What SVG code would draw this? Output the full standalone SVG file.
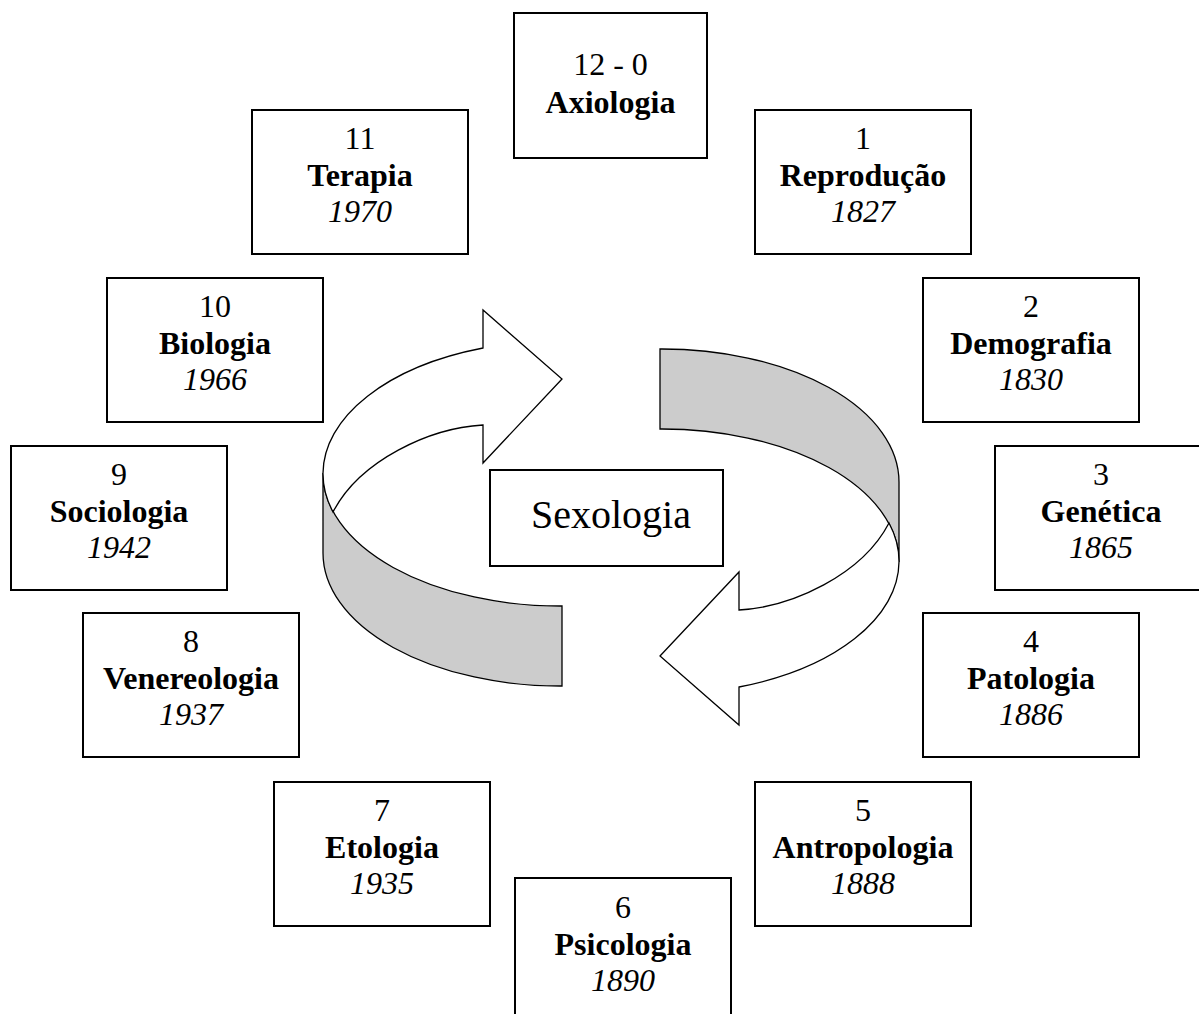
<svg xmlns="http://www.w3.org/2000/svg" width="1199" height="1014" viewBox="0 0 1199 1014">
  <defs>
    <style>
      .box { fill: #ffffff; stroke: #000000; stroke-width: 2; }
      .t { font-family: "Liberation Serif", "Times New Roman", serif; font-size: 32px; fill: #000000; text-anchor: middle; }
      .b { font-weight: bold; }
      .i { font-style: italic; }
      .center { font-size: 40px; }
      .face { fill: #ffffff; stroke: #000000; stroke-width: 1.3; stroke-linejoin: miter; }
      .band { fill: #cccccc; stroke: #000000; stroke-width: 1.3; }
    </style>
    <!-- one curved 3D arrow: gray underside band plus white front face -->
    <g id="curvedArrow">
      <path class="band" d="M323,473 A237 133 0 0 0 562,606 L562,686 A237 133 0 0 1 323,553 Z"/>
      <path class="face" d="M483,348 L483,310 L562,379 L483,463 L483,425 C430,428 360,460 333,512 A237 133 0 0 1 323,473 A237 133 0 0 1 483,348 Z"/>
    </g>
  </defs>

  <rect width="1199" height="1014" fill="#ffffff"/>

  <!-- cycle arrows around the centre -->
  <g id="connectors">
    <use href="#curvedArrow"/>
    <use href="#curvedArrow" transform="rotate(180 611 517.5)"/>
  </g>

  <g id="sexologia">
    <rect class="box" x="490" y="470" width="233" height="96"/>
    <text class="t center" x="611" y="528">Sexologia</text>
  </g>

  <g id="axiologia">
    <rect class="box" x="514" y="13" width="193" height="145"/>
    <text class="t" x="610.5" y="75">12 - 0</text>
    <text class="t b" x="610.5" y="113">Axiologia</text>
  </g>

  <g id="reproducao">
    <rect class="box" x="755" y="110" width="216" height="144"/>
    <text class="t" x="863" y="149">1</text>
    <text class="t b" x="863" y="186">Reprodução</text>
    <text class="t i" x="863" y="222">1827</text>
  </g>

  <g id="demografia">
    <rect class="box" x="923" y="278" width="216" height="144"/>
    <text class="t" x="1031" y="317">2</text>
    <text class="t b" x="1031" y="354">Demografia</text>
    <text class="t i" x="1031" y="390">1830</text>
  </g>

  <g id="genetica">
    <rect class="box" x="995" y="446" width="216" height="144"/>
    <text class="t" x="1101" y="485">3</text>
    <text class="t b" x="1101" y="522">Genética</text>
    <text class="t i" x="1101" y="558">1865</text>
  </g>

  <g id="patologia">
    <rect class="box" x="923" y="613" width="216" height="144"/>
    <text class="t" x="1031" y="652">4</text>
    <text class="t b" x="1031" y="689">Patologia</text>
    <text class="t i" x="1031" y="725">1886</text>
  </g>

  <g id="antropologia">
    <rect class="box" x="755" y="782" width="216" height="144"/>
    <text class="t" x="863" y="821">5</text>
    <text class="t b" x="863" y="858">Antropologia</text>
    <text class="t i" x="863" y="894">1888</text>
  </g>

  <g id="psicologia">
    <rect class="box" x="515" y="878" width="216" height="144"/>
    <text class="t" x="623" y="918">6</text>
    <text class="t b" x="623" y="955">Psicologia</text>
    <text class="t i" x="623" y="991">1890</text>
  </g>

  <g id="etologia">
    <rect class="box" x="274" y="782" width="216" height="144"/>
    <text class="t" x="382" y="821">7</text>
    <text class="t b" x="382" y="858">Etologia</text>
    <text class="t i" x="382" y="894">1935</text>
  </g>

  <g id="venereologia">
    <rect class="box" x="83" y="613" width="216" height="144"/>
    <text class="t" x="191" y="652">8</text>
    <text class="t b" x="191" y="689">Venereologia</text>
    <text class="t i" x="191" y="725">1937</text>
  </g>

  <g id="sociologia">
    <rect class="box" x="11" y="446" width="216" height="144"/>
    <text class="t" x="119" y="485">9</text>
    <text class="t b" x="119" y="522">Sociologia</text>
    <text class="t i" x="119" y="558">1942</text>
  </g>

  <g id="biologia">
    <rect class="box" x="107" y="278" width="216" height="144"/>
    <text class="t" x="215" y="317">10</text>
    <text class="t b" x="215" y="354">Biologia</text>
    <text class="t i" x="215" y="390">1966</text>
  </g>

  <g id="terapia">
    <rect class="box" x="252" y="110" width="216" height="144"/>
    <text class="t" x="360" y="149">11</text>
    <text class="t b" x="360" y="186">Terapia</text>
    <text class="t i" x="360" y="222">1970</text>
  </g>
</svg>
